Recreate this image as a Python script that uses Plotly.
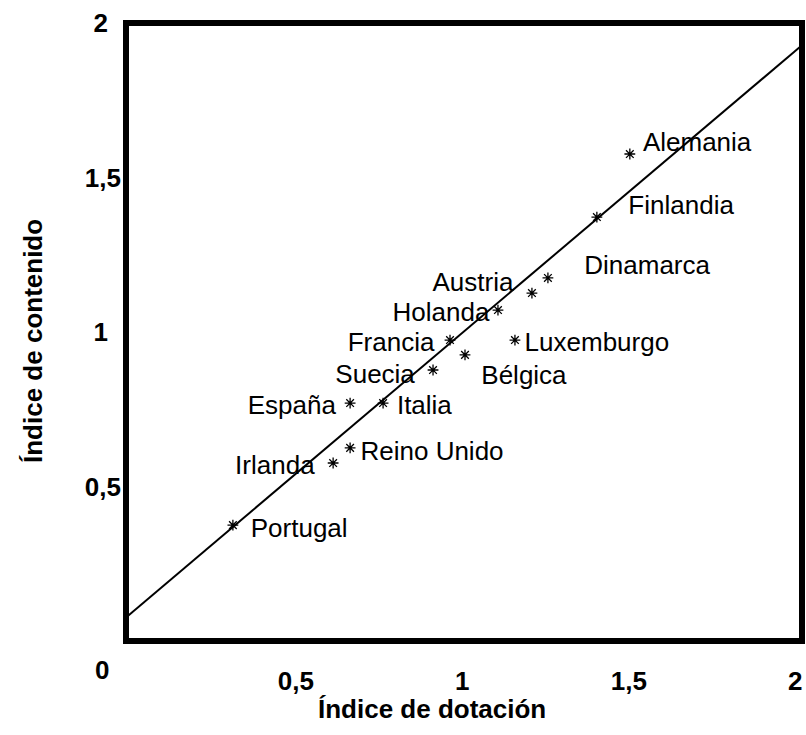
import plotly.graph_objects as go

# Data
countries = ["Alemania", "Finlandia", "Dinamarca", "Austria", "Holanda", "Francia",
             "Bélgica", "Luxemburgo", "Suecia", "Italia", "España", "Reino Unido",
             "Irlanda", "Portugal"]
dotacion = [1.503, 1.404, 1.257, 1.209, 1.107, 0.963, 1.008, 1.158, 0.912, 0.762,
            0.663, 0.663, 0.612, 0.311]
contenido = [1.576, 1.372, 1.175, 1.126, 1.071, 0.974, 0.926, 0.974, 0.877, 0.770,
             0.770, 0.625, 0.576, 0.375]

# label anchor positions (data units)
label_x = [1.705, 1.657, 1.555, 1.032, 0.936, 0.786, 1.185, 1.404, 0.738, 0.886,
           0.488, 0.909, 0.437, 0.510]
label_y = [1.608, 1.402, 1.209, 1.155, 1.058, 0.958, 0.854, 0.958, 0.857, 0.757,
           0.757, 0.607, 0.560, 0.359]

# fitted line end points
line_x = [-0.01, 2.02]
line_y = [0.076, 1.928]

x_ticks = [0.5, 1, 1.5, 2]
x_ticktext = ["0,5", "1", "1,5", "2"]
y_ticks = [0.5, 1, 1.5, 2]
y_ticktext = ["0,5", "1\u2002", "1,5", "2\u2002"]

FONT = "Liberation Sans, Arial, sans-serif"

fig = go.Figure()
fig.add_trace(go.Scatter(x=line_x, y=line_y, mode="lines",
                         line=dict(color="black", width=2), hoverinfo="skip",
                         showlegend=False))
fig.add_trace(go.Scatter(x=dotacion, y=contenido, mode="markers",
                         marker=dict(symbol="asterisk-open", size=9,
                                     line=dict(color="black", width=1.3), color="black"),
                         text=countries, showlegend=False, cliponaxis=False))
fig.add_trace(go.Scatter(x=label_x, y=label_y, mode="text", text=countries,
                         textposition="middle center",
                         textfont=dict(family=FONT, size=26, color="black"),
                         showlegend=False, cliponaxis=False, hoverinfo="skip"))

fig.update_layout(
    width=806, height=735,
    margin=dict(l=126, r=4, t=23, b=94, autoexpand=False),
    paper_bgcolor="white", plot_bgcolor="white",
    font=dict(family=FONT, color="black"),
    xaxis=dict(range=[-0.01, 2.02], tickvals=x_ticks, ticktext=x_ticktext,
               showgrid=False, zeroline=False, showline=False, ticks="",
               automargin=False,
               tickfont=dict(family=FONT, size=26, color="black", weight="bold"),
               ticklabelstandoff=22),
    yaxis=dict(range=[0, 2], tickvals=y_ticks, ticktext=y_ticktext,
               showgrid=False, zeroline=False, showline=False, ticks="",
               automargin=False,
               tickfont=dict(family=FONT, size=26, color="black", weight="bold"),
               ticklabelstandoff=4),
    shapes=[dict(type="rect", xref="paper", yref="paper", x0=0, x1=1, y0=0, y1=1,
                 line=dict(color="black", width=6), fillcolor="rgba(0,0,0,0)")],
    annotations=[
        dict(text="Índice de dotación", xref="paper", yref="paper",
             x=(432 - 126) / 676, y=(641 - 709) / 618, xanchor="center", yanchor="middle",
             showarrow=False, font=dict(family=FONT, size=26, color="black", weight="bold")),
        dict(text="Índice de contenido", xref="paper", yref="paper", textangle=-90,
             x=(33 - 126) / 676, y=(641 - 341) / 618, xanchor="center", yanchor="middle",
             showarrow=False, font=dict(family=FONT, size=26, color="black", weight="bold")),
        dict(text="0", xref="paper", yref="paper",
             x=(102 - 126) / 676, y=(641 - 670) / 618, xanchor="center", yanchor="middle",
             showarrow=False, font=dict(family=FONT, size=26, color="black", weight="bold")),
    ],
)

fig.write_html("out.html", config={"displayModeBar": False},
               post_script="document.body.style.margin='0';document.body.style.overflow='hidden';")
